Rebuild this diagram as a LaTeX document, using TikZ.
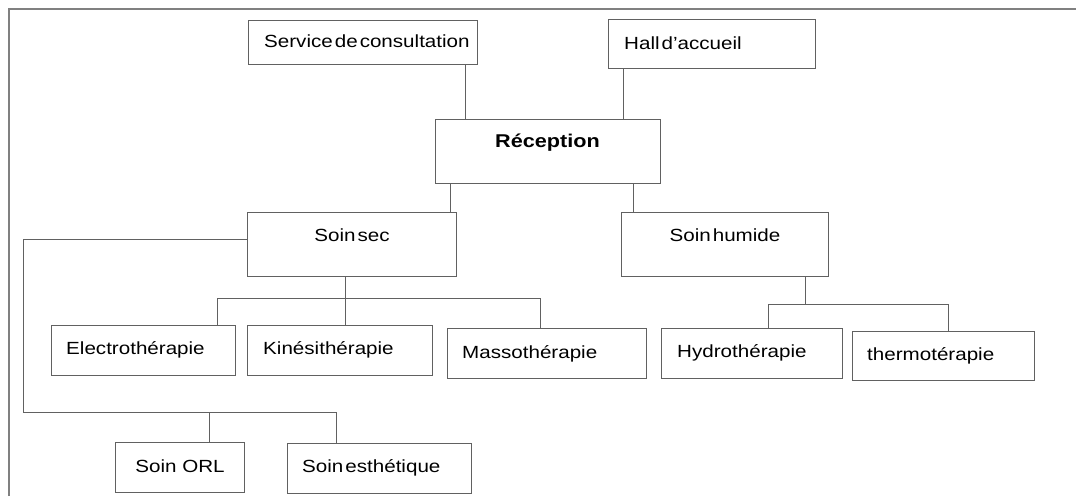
\documentclass[tikz,border=0pt]{standalone}
\usepackage{fontspec}
\setmainfont{Liberation Sans}[FakeStretch=1.17]
\begin{document}
\begin{tikzpicture}[x=1pt,y=-1pt,
  box/.style={draw=black!62, line width=1pt, rectangle, inner sep=0pt},
  lbl/.style={inner sep=0pt, font=\fontsize{17.6}{20}\selectfont},
  tight/.style={lbl, execute at begin node={\spaceskip=2pt plus 0pt minus 0pt\relax}},
  link/.style={draw=black!62, line width=1pt}]
\useasboundingbox (0,0) rectangle (1076,496);
% outer frame
\draw[black!50, line width=1.2pt] (9,496) -- (9,9) -- (1076,9);

% boxes
\node[box, minimum width=229pt, minimum height=44pt] (serv) at (362.5,42) {};
\node[box, minimum width=207pt, minimum height=49pt] (hall) at (711.5,43.5) {};
\node[box, minimum width=225pt, minimum height=64pt] (recep) at (547.5,151) {};
\node[box, minimum width=209pt, minimum height=64pt] (sec) at (351.5,244) {};
\node[box, minimum width=207pt, minimum height=64pt] (hum) at (724.5,244) {};
\node[box, minimum width=184pt, minimum height=50pt] (elec) at (143,350) {};
\node[box, minimum width=185pt, minimum height=50pt] (kine) at (339.5,350) {};
\node[box, minimum width=199pt, minimum height=50pt] (masso) at (546.5,353) {};
\node[box, minimum width=181pt, minimum height=50pt] (hydro) at (751.5,353) {};
\node[box, minimum width=182pt, minimum height=49pt] (thermo) at (943,355.5) {};
\node[box, minimum width=129pt, minimum height=50pt] (orl) at (179.5,467) {};
\node[box, minimum width=184pt, minimum height=50pt] (esth) at (379,468) {};

% labels
\node[tight, anchor=base west] (serv-t) at (264,47.5) {Service de consultation};
\node[tight, anchor=base west] (hall-t) at (624,49) {Hall d’accueil};
\node[lbl, anchor=base, font=\fontsize{18.5}{21}\selectfont\bfseries] (recep-t) at (547.5,147.5) {Réception};
\node[tight, anchor=base] (sec-t) at (352,241.7) {Soin sec};
\node[tight, anchor=base] (hum-t) at (725,241.7) {Soin humide};
\node[lbl, anchor=base west] (elec-t) at (66,354.3) {Electrothérapie};
\node[lbl, anchor=base west] (kine-t) at (263,354) {Kinésithérapie};
\node[lbl, anchor=base west] (masso-t) at (462,358.3) {Massothérapie};
\node[lbl, anchor=base west] (hydro-t) at (677,357.3) {Hydrothérapie};
\node[lbl, anchor=base west] (thermo-t) at (867,360) {thermotérapie};
\node[lbl, anchor=base] (orl-t) at (180,472.3) {Soin ORL};
\node[tight, anchor=base west] (esth-t) at (302,472.3) {Soin esthétique};

% junction points of the connectors
\coordinate (j1) at (465,0);
\coordinate (j2) at (623,0);
\coordinate (j3) at (450,0);
\coordinate (j4) at (633,0);
\coordinate (lb1) at (23,239);
\coordinate (lb2) at (23,412);
\coordinate (lb3) at (336,412);
\coordinate (lbo) at (209,412);
\coordinate (sb) at (345,298);
\coordinate (sbl) at (217,298);
\coordinate (sbr) at (540,298);
\coordinate (hb) at (805,304);
\coordinate (hbl) at (768,304);
\coordinate (hbr) at (948,304);

% connectors
\draw[link] (serv.south -| j1) -- (recep.north -| j1);
\draw[link] (hall.south -| j2) -- (recep.north -| j2);
\draw[link] (recep.south -| j3) -- (sec.north -| j3);
\draw[link] (recep.south -| j4) -- (hum.north -| j4);

\draw[link] (sec.west |- lb1) -- (lb1) -- (lb2) -- (lb3) -- (esth.north -| lb3);
\draw[link] (lbo) -- (orl.north -| lbo);

\draw[link] (sec.south -| sb) -- (kine.north -| sb);
\draw[link] (elec.north -| sbl) -- (sbl) -- (sbr) -- (masso.north -| sbr);

\draw[link] (hum.south -| hb) -- (hb);
\draw[link] (hydro.north -| hbl) -- (hbl) -- (hbr) -- (thermo.north -| hbr);
\end{tikzpicture}
\end{document}
